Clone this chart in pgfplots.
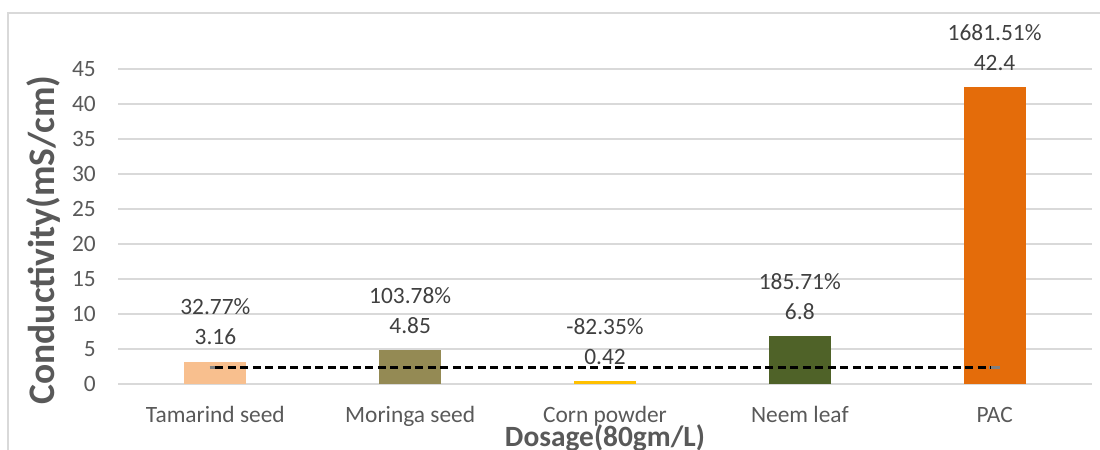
\documentclass[border=0pt]{standalone}
\usepackage{fontspec}
\setmainfont{Carlito}
\usepackage{pgfplots}
\pgfplotsset{compat=1.18}
\definecolor{tickc}{HTML}{595959}
\definecolor{labc}{HTML}{404040}
\definecolor{gridc}{HTML}{D9D9D9}
\definecolor{frame}{HTML}{D9D9D9}
\definecolor{cTam}{HTML}{F8BF8E}
\definecolor{cMor}{HTML}{948A54}
\definecolor{cCorn}{HTML}{FFC000}
\definecolor{cNeem}{HTML}{4F6228}
\definecolor{cPAC}{HTML}{E46C0A}
\begin{document}
\begin{tikzpicture}[x=1bp,y=1bp]
\useasboundingbox (0,0) rectangle (1100,450);
\draw[frame, line width=1.5bp] (8,-5) -- (8,437) -- (1105,437);
\begin{axis}[
  at={(118bp,66bp)}, anchor=south west,
  scale only axis, width=974bp, height=315bp,
  xmin=-0.5, xmax=4.5, ymin=0, ymax=45,
  clip=false,
  axis line style={draw=none},
  major tick length=0pt,
  ytick={0,5,...,45},
  xtick={0,1,2,3,4},
  xticklabels={Tamarind seed, Moringa seed, Corn powder, Neem leaf, PAC},
  ymajorgrids, grid style={gridc, line width=1.3bp},
  /pgf/number format/assume math mode=true,
  ticklabel style={font=\fontsize{23.4bp}{28bp}\selectfont, text=tickc},
  xticklabel style={anchor=base, inner sep=0pt, yshift=-39bp},
  yticklabel style={anchor=east, inner sep=0pt, xshift=-22bp},
  xlabel={Dosage(80gm/L)},
  xlabel style={at={(axis description cs:0.5,0)}, anchor=base, inner sep=0pt, yshift=-63bp, font=\fontsize{29.4bp}{34bp}\selectfont\bfseries, text=tickc},
  ylabel={Conductivity(mS/cm)},
  ylabel style={at={(axis description cs:0,0.457)}, anchor=base, inner sep=0pt, yshift=63bp, font=\fontsize{37.5bp}{40bp}\selectfont\bfseries, text=tickc},
  bar width=62bp,
  point meta=explicit symbolic,
  nodes near coords={\pgfplotspointmeta\\\pgfmathprintnumber{\pgfkeysvalueof{/data point/y}}},
  nodes near coords style={anchor=south, inner sep=0pt, yshift=16.6bp, align=center, font=\fontsize{23.4bp}{30bp}\selectfont, text=labc},
]
\addplot[ybar, bar shift=0pt, fill=cTam, draw=none] coordinates {(0,3.16) [32.77\%]};
\addplot[ybar, bar shift=0pt, fill=cMor, draw=none] coordinates {(1,4.85) [103.78\%]};
\addplot[ybar, bar shift=0pt, fill=cCorn, draw=none] coordinates {(2,0.42) [-82.35\%]};
\addplot[ybar, bar shift=0pt, fill=cNeem, draw=none] coordinates {(3,6.8) [185.71\%]};
\addplot[ybar, bar shift=0pt, fill=cPAC, draw=none] coordinates {(4,42.4) [1681.51\%]};
\addplot[gray, line width=2.4bp, no marks, nodes near coords={}] coordinates {(-0.03,2.38) (0.01,2.38)};
\addplot[gray, line width=2.4bp, no marks, nodes near coords={}] coordinates {(3.97,2.38) (4.03,2.38)};
\addplot[black, line width=2.4bp, no marks, dash pattern=on 8bp off 4.5bp, nodes near coords={}] coordinates {(0,2.38) (3.98,2.38)};
\end{axis}
\end{tikzpicture}
\end{document}
